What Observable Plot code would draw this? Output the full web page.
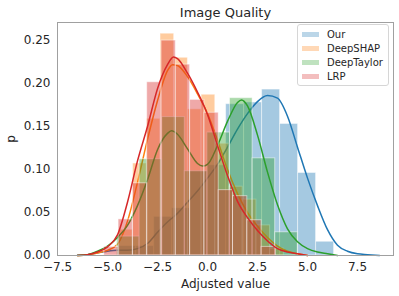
<!DOCTYPE html>
<html>
<head>
<meta charset="utf-8">
<script src="https://cdn.jsdelivr.net/npm/d3@7"></script>
<script src="https://cdn.jsdelivr.net/npm/@observablehq/plot@0.6"></script>
<style>
  html, body { margin: 0; padding: 0; background: white; }
  #wrap { position: relative; width: 399px; height: 296px; font-family: "DejaVu Sans", sans-serif; }
  #legend { position: absolute; left: 297px; top: 24px; width: 90px; height: 60px;
    border: 1px solid #d6d6d6; border-radius: 3px; background: rgba(255,255,255,0.8);
    font-size: 10px; color: #262626; box-sizing: content-box; }
  .row { position: absolute; left: 0; height: 12px; display: flex; align-items: center; }
  .sw { width: 17px; height: 5px; margin-left: 4px; margin-right: 8px; }
</style>
</head>
<body>
<div id="wrap"></div>
<script>
// ---- data ----
const title = "Image Quality";
const xLabel = "Adjusted value";
const yLabel = "p";
const seriesNames = ["Our", "DeepSHAP", "DeepTaylor", "LRP"];
const seriesColors = ["#1f77b4", "#ff7f0e", "#2ca02c", "#d62728"];
const xTicks = [-7.5, -5, -2.5, 0, 2.5, 5, 7.5];
const yTicks = [0, 0.05, 0.10, 0.15, 0.20, 0.25];

// histogram bin edges and densities
const ourEdges = [-4.47, -3.57, -2.67, -1.77, -0.87, 0.03, 0.93, 1.83, 2.73, 3.63, 4.53, 5.43, 6.33];
const ourHist = [0.011, 0.011, 0.045, 0.055, 0.098, 0.105, 0.176, 0.178, 0.193, 0.153, 0.096, 0.016];
const shapEdges = [-4.405, -3.72, -3.035, -2.35, -1.665, -0.98, -0.295, 0.39, 1.075, 1.76, 2.445, 3.13, 3.815];
const shapHist = [0.03, 0.107, 0.159, 0.258, 0.23, 0.17, 0.187, 0.13, 0.08, 0.065, 0.035, 0.008];
const taylorEdges = [-4.525, -3.395, -2.265, -1.135, -0.005, 1.125, 2.255, 3.385, 4.515];
const taylorHist = [0.022, 0.112, 0.161, 0.098, 0.143, 0.183, 0.113, 0.027];
const lrpEdges = [-5.16, -4.445, -3.73, -3.015, -2.3, -1.585, -0.87, -0.155, 0.56, 1.275, 1.99, 2.705, 3.42];
const lrpHist = [0.01, 0.042, 0.084, 0.2015, 0.25, 0.222, 0.181, 0.166, 0.076, 0.069, 0.041, 0.01];

// density curves (x, p)
const ourKdeX = [-6.5, -6, -5.5, -5, -4.5, -4, -3.5, -3, -2.5, -2, -1.5, -1, -0.5, 0, 0.5, 1, 1.5, 2, 2.5, 3, 3.5, 4, 4.5, 5, 5.5, 6, 6.5, 7, 7.5, 8, 8.6];
const ourKdeY = [0.0002, 0.001, 0.003, 0.005, 0.006, 0.006, 0.008, 0.014, 0.027, 0.039, 0.049, 0.062, 0.075, 0.09, 0.106, 0.126, 0.147, 0.165, 0.179, 0.186, 0.183, 0.162, 0.126, 0.09, 0.058, 0.03, 0.012, 0.005, 0.002, 0.001, 0];
const shapKdeX = [-6.5, -6, -5.5, -5, -4.5, -4, -3.5, -3, -2.5, -2, -1.75, -1.5, -1, -0.5, 0, 0.5, 1, 1.5, 2, 2.5, 3, 3.5, 4, 4.5, 5];
const shapKdeY = [0, 0.001, 0.003, 0.006, 0.013, 0.04, 0.085, 0.135, 0.18, 0.215, 0.222, 0.221, 0.208, 0.188, 0.165, 0.134, 0.1, 0.072, 0.05, 0.034, 0.021, 0.011, 0.005, 0.002, 0];
const taylorKdeX = [-6.5, -6, -5.5, -5, -4.5, -4, -3.5, -3, -2.5, -2, -1.8, -1.5, -1, -0.5, -0.25, 0, 0.5, 1, 1.5, 1.7, 2, 2.5, 3, 3.5, 4, 4.5, 5, 5.5, 6, 6.5];
const taylorKdeY = [0, 0.001, 0.005, 0.011, 0.021, 0.035, 0.058, 0.088, 0.123, 0.142, 0.145, 0.141, 0.124, 0.107, 0.104, 0.106, 0.128, 0.156, 0.178, 0.181, 0.174, 0.14, 0.097, 0.059, 0.031, 0.016, 0.008, 0.004, 0.002, 0];
const lrpKdeX = [-6.5, -6, -5.5, -5, -4.5, -4, -3.5, -3, -2.5, -2, -1.7, -1.5, -1, -0.5, 0, 0.5, 1, 1.5, 2, 2.5, 3, 3.5, 4, 4.5, 5];
const lrpKdeY = [0, 0.001, 0.004, 0.01, 0.024, 0.062, 0.11, 0.15, 0.194, 0.222, 0.231, 0.229, 0.212, 0.19, 0.164, 0.128, 0.093, 0.063, 0.044, 0.029, 0.017, 0.008, 0.004, 0.002, 0];

// ---- build tables ----
const histEdges = [ourEdges, shapEdges, taylorEdges, lrpEdges];
const histVals = [ourHist, shapHist, taylorHist, lrpHist];
const kdeXs = [ourKdeX, shapKdeX, taylorKdeX, lrpKdeX];
const kdeYs = [ourKdeY, shapKdeY, taylorKdeY, lrpKdeY];

const marks = [];
seriesNames.forEach((name, i) => {
  const bins = histVals[i].map((v, j) => ({x1: histEdges[i][j], x2: histEdges[i][j + 1], y: v}));
  marks.push(Plot.rectY(bins, {x1: "x1", x2: "x2", y1: 0, y2: "y",
    fill: seriesColors[i], fillOpacity: 0.4, stroke: "white", strokeOpacity: 0.5, strokeWidth: 1}));
  const pts = kdeXs[i].map((x, j) => ({x, y: kdeYs[i][j]}));
  marks.push(Plot.line(pts, {x: "x", y: "y", stroke: seriesColors[i], strokeWidth: 1.5, curve: "monotone-x"}));
});

const chart = Plot.plot({
  width: 399,
  height: 296,
  marginLeft: 57,
  marginRight: 6,
  marginTop: 22,
  marginBottom: 41,
  style: {fontFamily: "DejaVu Sans", fontSize: "12px", color: "#262626", background: "white"},
  x: {domain: [-7.5, 9.3]},
  y: {domain: [0, 0.271]},
  marks: [
    ...marks,
    Plot.frame({stroke: "#a0a0a0", strokeWidth: 1}),
    Plot.axisX({ticks: xTicks, tickFormat: d3.format(".1f"), tickSize: 0, tickPadding: 7,
      label: xLabel, labelAnchor: "center", labelArrow: "none", labelOffset: 32, fontSize: 12}),
    Plot.axisY({ticks: yTicks, tickFormat: d3.format(".2f"), tickSize: 0, tickPadding: 7,
      label: yLabel, labelAnchor: "center", labelArrow: "none", labelOffset: 51, fontSize: 12}),
    Plot.text([title], {frameAnchor: "top", lineAnchor: "bottom", dy: -6, fontSize: 13, fill: "#262626"})
  ]
});

const wrap = document.getElementById("wrap");
wrap.appendChild(chart);

const legend = document.createElement("div");
legend.id = "legend";
seriesNames.forEach((name, i) => {
  const row = document.createElement("div");
  row.className = "row";
  row.style.top = (3 + i * 14.3) + "px";
  const sw = document.createElement("span");
  sw.className = "sw";
  sw.style.background = seriesColors[i];
  sw.style.opacity = 0.3;
  const t = document.createElement("span");
  t.textContent = name;
  row.appendChild(sw);
  row.appendChild(t);
  legend.appendChild(row);
});
wrap.appendChild(legend);
</script>
</body>
</html>
